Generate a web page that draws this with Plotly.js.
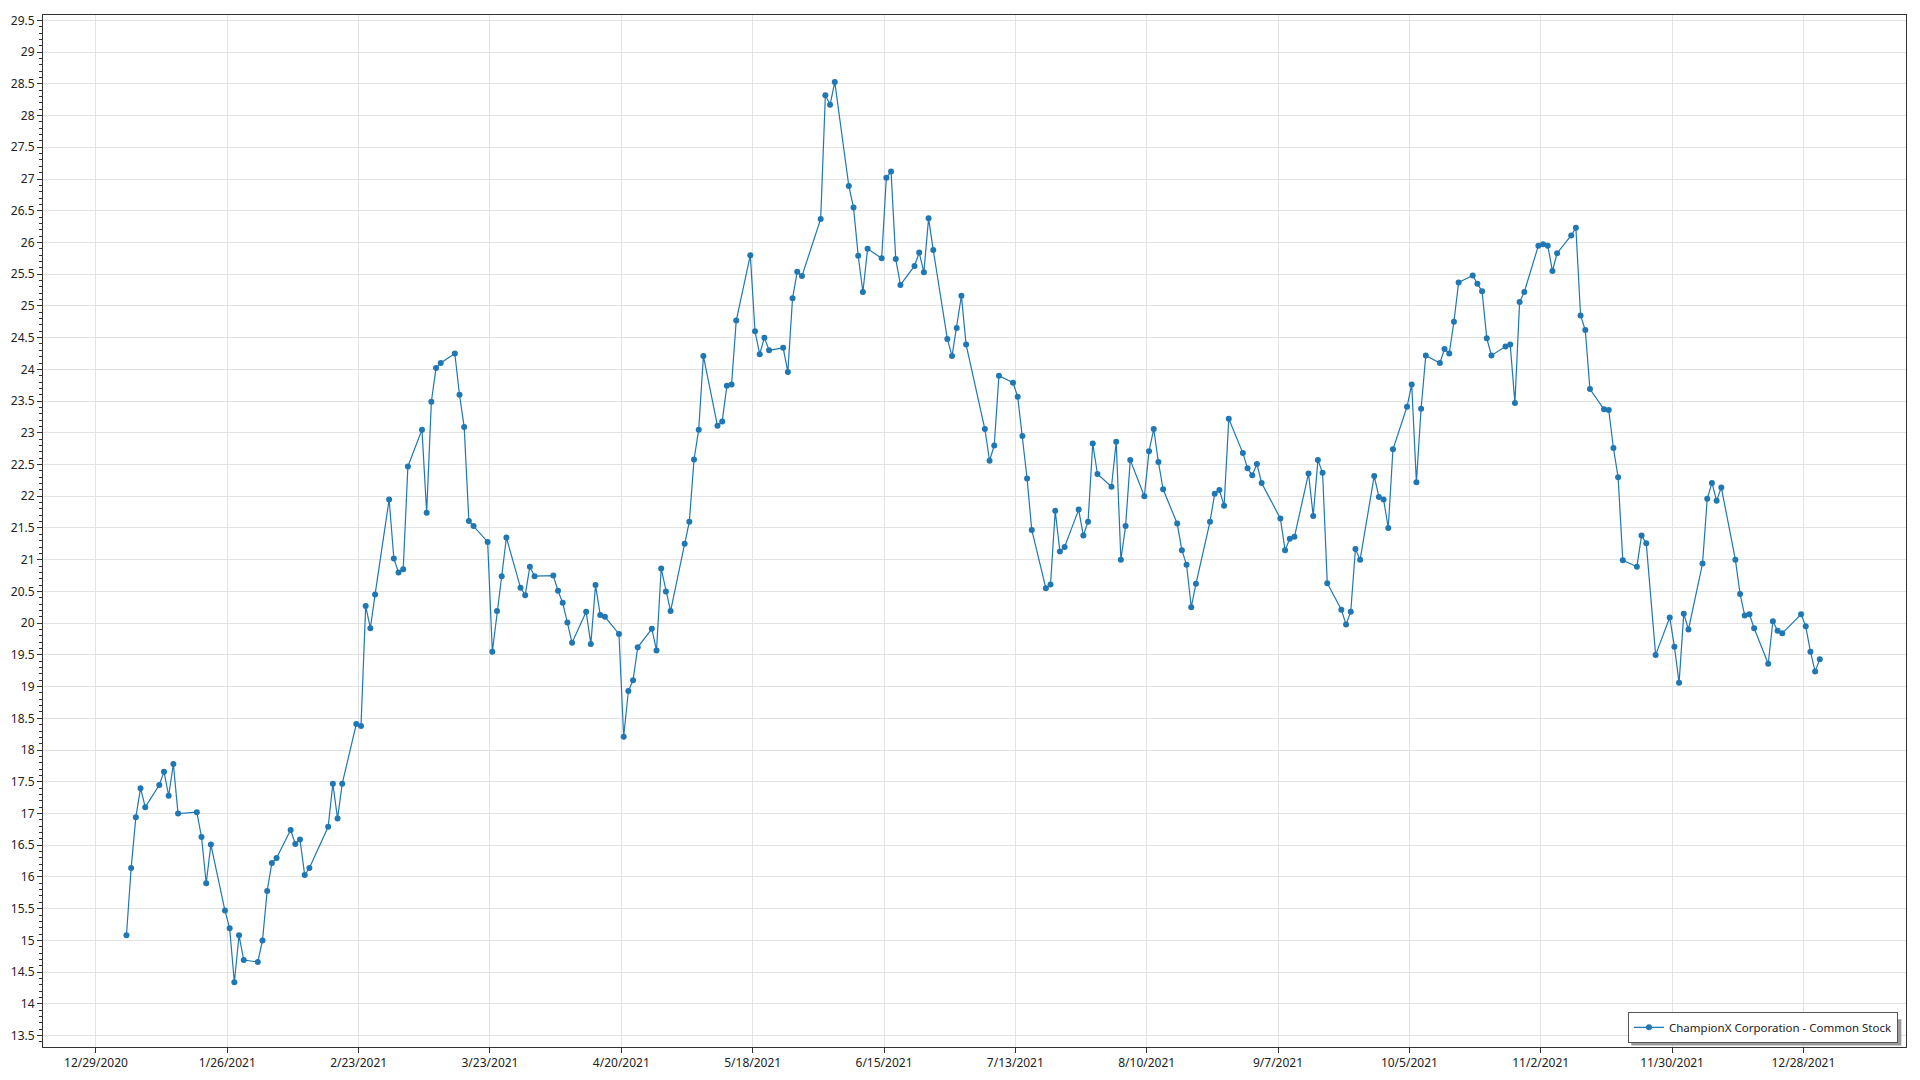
<!DOCTYPE html>
<html>
<head>
<meta charset="utf-8">
<script src="https://cdn.plot.ly/plotly-3.0.1.min.js"></script>
<style>
html,body{margin:0;padding:0;background:#fff;}
#chart{width:1920px;height:1080px;}
</style>
</head>
<body>
<div id="chart"></div>
<script>
const seriesName = "ChampionX Corporation - Common Stock";

const dates = [
"2021-01-04","2021-01-05","2021-01-06","2021-01-07","2021-01-08",
"2021-01-11","2021-01-12","2021-01-13","2021-01-14","2021-01-15",
"2021-01-19","2021-01-20","2021-01-21","2021-01-22",
"2021-01-25","2021-01-26","2021-01-27","2021-01-28","2021-01-29",
"2021-02-01","2021-02-02","2021-02-03","2021-02-04","2021-02-05",
"2021-02-08","2021-02-09","2021-02-10","2021-02-11","2021-02-12",
"2021-02-16","2021-02-17","2021-02-18","2021-02-19",
"2021-02-22","2021-02-23","2021-02-24","2021-02-25","2021-02-26",
"2021-03-01","2021-03-02","2021-03-03","2021-03-04","2021-03-05",
"2021-03-08","2021-03-09","2021-03-10","2021-03-11","2021-03-12",
"2021-03-15","2021-03-16","2021-03-17","2021-03-18","2021-03-19",
"2021-03-22","2021-03-23","2021-03-24","2021-03-25","2021-03-26",
"2021-03-29","2021-03-30","2021-03-31","2021-04-01",
"2021-04-05","2021-04-06","2021-04-07","2021-04-08","2021-04-09",
"2021-04-12","2021-04-13","2021-04-14","2021-04-15","2021-04-16",
"2021-04-19","2021-04-20","2021-04-21","2021-04-22","2021-04-23",
"2021-04-26","2021-04-27","2021-04-28","2021-04-29","2021-04-30",
"2021-05-03","2021-05-04","2021-05-05","2021-05-06","2021-05-07",
"2021-05-10","2021-05-11","2021-05-12","2021-05-13","2021-05-14",
"2021-05-17","2021-05-18","2021-05-19","2021-05-20","2021-05-21",
"2021-05-24","2021-05-25","2021-05-26","2021-05-27","2021-05-28",
"2021-06-01","2021-06-02","2021-06-03","2021-06-04",
"2021-06-07","2021-06-08","2021-06-09","2021-06-10","2021-06-11",
"2021-06-14","2021-06-15","2021-06-16","2021-06-17","2021-06-18",
"2021-06-21","2021-06-22","2021-06-23","2021-06-24","2021-06-25",
"2021-06-28","2021-06-29","2021-06-30","2021-07-01","2021-07-02",
"2021-07-06","2021-07-07","2021-07-08","2021-07-09",
"2021-07-12","2021-07-13","2021-07-14","2021-07-15","2021-07-16",
"2021-07-19","2021-07-20","2021-07-21","2021-07-22","2021-07-23",
"2021-07-26","2021-07-27","2021-07-28","2021-07-29","2021-07-30",
"2021-08-02","2021-08-03","2021-08-04","2021-08-05","2021-08-06",
"2021-08-09","2021-08-10","2021-08-11","2021-08-12","2021-08-13",
"2021-08-16","2021-08-17","2021-08-18","2021-08-19","2021-08-20",
"2021-08-23","2021-08-24","2021-08-25","2021-08-26","2021-08-27",
"2021-08-30","2021-08-31","2021-09-01","2021-09-02","2021-09-03",
"2021-09-07","2021-09-08","2021-09-09","2021-09-10",
"2021-09-13","2021-09-14","2021-09-15","2021-09-16","2021-09-17",
"2021-09-20","2021-09-21","2021-09-22","2021-09-23","2021-09-24",
"2021-09-27","2021-09-28","2021-09-29","2021-09-30","2021-10-01",
"2021-10-04","2021-10-05","2021-10-06","2021-10-07","2021-10-08",
"2021-10-11","2021-10-12","2021-10-13","2021-10-14","2021-10-15",
"2021-10-18","2021-10-19","2021-10-20","2021-10-21","2021-10-22",
"2021-10-25","2021-10-26","2021-10-27","2021-10-28","2021-10-29",
"2021-11-01","2021-11-02","2021-11-03","2021-11-04","2021-11-05",
"2021-11-08","2021-11-09","2021-11-10","2021-11-11","2021-11-12",
"2021-11-15","2021-11-16","2021-11-17","2021-11-18","2021-11-19",
"2021-11-22","2021-11-23","2021-11-24","2021-11-26",
"2021-11-29","2021-11-30","2021-12-01","2021-12-02","2021-12-03",
"2021-12-06","2021-12-07","2021-12-08","2021-12-09","2021-12-10",
"2021-12-13","2021-12-14","2021-12-15","2021-12-16","2021-12-17",
"2021-12-20","2021-12-21","2021-12-22","2021-12-23",
"2021-12-27","2021-12-28","2021-12-29","2021-12-30","2021-12-31"
];

const prices = [
15.08,16.14,16.94,17.40,17.10,
17.45,17.66,17.28,17.78,17.00,
17.02,16.63,15.90,16.51,
15.47,15.19,14.34,15.08,14.69,
14.66,15.00,15.78,16.22,16.30,
16.74,16.52,16.59,16.03,16.14,
16.79,17.47,16.92,17.47,
18.41,18.38,20.27,19.92,20.45,
21.95,21.02,20.80,20.85,22.47,
23.05,21.74,23.49,24.02,24.10,
24.25,23.60,23.09,21.61,21.53,
21.28,19.55,20.19,20.74,21.35,
20.56,20.44,20.89,20.74,
20.75,20.51,20.32,20.01,19.69,
20.18,19.67,20.60,20.13,20.10,
19.83,18.21,18.93,19.10,19.62,
19.91,19.57,20.86,20.50,20.19,
21.25,21.60,22.58,23.05,24.21,
23.11,23.18,23.74,23.76,24.77,
25.80,24.60,24.24,24.50,24.30,
24.34,23.96,25.12,25.54,25.47,
26.37,28.32,28.17,28.53,
26.89,26.55,25.79,25.22,25.90,
25.75,27.02,27.12,25.74,25.33,
25.63,25.84,25.53,26.38,25.88,
24.48,24.21,24.65,25.16,24.39,
23.06,22.56,22.80,23.90,
23.79,23.57,22.95,22.28,21.47,
20.55,20.61,21.77,21.13,21.20,
21.79,21.38,21.60,22.83,22.35,
22.15,22.86,21.00,21.53,22.57,
22.00,22.71,23.06,22.54,22.11,
21.57,21.15,20.92,20.25,20.62,
21.60,22.04,22.10,21.85,23.22,
22.68,22.44,22.33,22.51,22.21,
21.65,21.15,21.33,21.36,
22.36,21.69,22.57,22.37,20.63,
20.21,19.98,20.18,21.17,21.00,
22.32,21.99,21.95,21.50,22.74,
23.41,23.76,22.22,23.38,24.22,
24.10,24.32,24.25,24.75,25.37,
25.48,25.35,25.23,24.49,24.22,
24.36,24.39,23.47,25.06,25.22,
25.95,25.97,25.95,25.55,25.83,
26.11,26.23,24.85,24.62,23.69,
23.37,23.36,22.76,22.30,20.99,
20.89,21.38,21.26,19.50,
20.09,19.63,19.06,20.15,19.90,
20.94,21.96,22.21,21.93,22.14,
21.00,20.46,20.12,20.14,19.92,
19.36,20.03,19.88,19.84,
20.14,19.95,19.55,19.24,19.43
];

const xTickVals = ["2020-12-29","2021-01-26","2021-02-23","2021-03-23","2021-04-20","2021-05-18","2021-06-15","2021-07-13","2021-08-10","2021-09-07","2021-10-05","2021-11-02","2021-11-30","2021-12-28"];
const xTickText = ["12/29/2020","1/26/2021","2/23/2021","3/23/2021","4/20/2021","5/18/2021","6/15/2021","7/13/2021","8/10/2021","9/7/2021","10/5/2021","11/2/2021","11/30/2021","12/28/2021"];

const lineColor = "#1f77b4";
const FONT = "Noto Sans, Open Sans, sans-serif";

const trace = {
  type: "scatter",
  mode: "lines+markers",
  name: seriesName,
  x: dates.map(d => d + " 12:00"),
  y: prices,
  line: {color: lineColor, width: 1.2},
  marker: {color: lineColor, size: 6}
};

const layout = {
  width: 1920,
  height: 1080,
  margin: {l: 43, r: 14, t: 15, b: 33, pad: 0},
  paper_bgcolor: "#ffffff",
  plot_bgcolor: "#ffffff",
  font: {family: FONT, size: 12, color: "#222"},
  showlegend: true,
  xaxis: {
    type: "date",
    range: ["2020-12-17 17:00", "2022-01-18 21:00"],
    tickmode: "array",
    tickvals: xTickVals,
    ticktext: xTickText,
    ticks: "outside",
    ticklen: 5,
    tickcolor: "#333",
    showgrid: true,
    gridcolor: "#e3e3e3",
    gridwidth: 1,
    showline: true,
    linecolor: "#333",
    linewidth: 1,
    mirror: true,
    zeroline: false,
    tickfont: {family: FONT, size: 12, color: "#222"}
  },
  yaxis: {
    range: [13.32, 29.585],
    tickmode: "linear",
    tick0: 13.5,
    dtick: 0.5,
    ticks: "outside",
    ticklen: 5,
    tickcolor: "#333",
    minor: {ticks: "outside", dtick: 0.1, ticklen: 3, tickcolor: "#333", showgrid: false},
    showgrid: true,
    gridcolor: "#e3e3e3",
    gridwidth: 1,
    showline: true,
    linecolor: "#333",
    linewidth: 1,
    mirror: true,
    zeroline: false,
    tickfont: {family: FONT, size: 12, color: "#222"}
  },
  legend: {
    x: 0.9957,
    y: 0.004,
    xanchor: "right",
    yanchor: "bottom",
    bgcolor: "#ffffff",
    bordercolor: "#555",
    borderwidth: 1,
    font: {family: FONT, size: 11.5, color: "#222"}
  },
  shapes: [{
    type: "rect",
    xref: "paper", yref: "paper",
    x0: 0.8525, x1: 0.9975, y0: 0.0015, y1: 0.027,
    fillcolor: "#9a9a9a",
    line: {width: 0},
    layer: "above"
  }]
};

Plotly.newPlot("chart", [trace], layout, {displayModeBar: false, staticPlot: true});
</script>
</body>
</html>
